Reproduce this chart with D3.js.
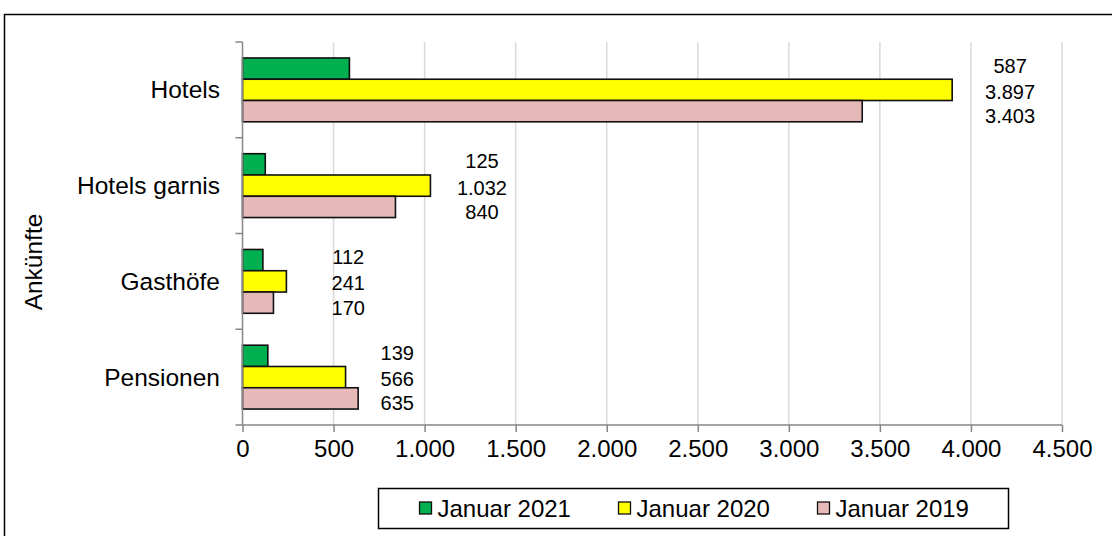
<!DOCTYPE html>
<html>
<head>
<meta charset="utf-8">
<script src="https://cdn.jsdelivr.net/npm/d3@7"></script>
<style>
    html, body { margin: 0; padding: 0; background: #fff; }
    svg { display: block; font-family: "Liberation Sans", Arial, sans-serif; }
</style>
</head>
<body>
<div id="chart"></div>
<script>
const categories = ["Hotels", "Hotels garnis", "Gasthöfe", "Pensionen"];
const seriesNames = ["Januar 2021", "Januar 2020", "Januar 2019"];
const jan2021 = [587, 125, 112, 139];
const jan2020 = [3897, 1032, 241, 566];
const jan2019 = [3403, 840, 170, 635];
const xTicks = [0, 500, 1000, 1500, 2000, 2500, 3000, 3500, 4000, 4500];
const axisTitle = "Ankünfte";

const seriesColors = ["#00b050", "#ffff00", "#e6b9b8"];
const seriesValues = [jan2021, jan2020, jan2019];

// labels were dragged by hand in the original, anchor them per category
const labelAnchor = [4215, 1315, 581, 850];
const labelShift = [-3, 2, 5];

const width = 1112, height = 536;
const plot = { left: 242.5, right: 1062, top: 42, bottom: 425 };

const svg = d3.select("#chart").append("svg")
    .attr("width", width)
    .attr("height", height);

// ── Outer frame ──
svg.append("rect")
    .attr("x", 4.5).attr("y", 14.5)
    .attr("width", 1200).attr("height", 700)
    .attr("fill", "none")
    .attr("stroke", "#000")
    .attr("stroke-width", 1.5);

const x = d3.scaleLinear()
    .domain([0, 4500])
    .range([plot.left, plot.right]);

const y = d3.scaleBand()
    .domain(categories)
    .range([plot.top, plot.bottom])
    .padding(0);

const ySub = d3.scaleBand()
    .domain(seriesNames)
    .range([0, y.bandwidth()])
    .paddingInner(0)
    .paddingOuter(0.75);

// ── Gridlines ──
svg.append("g")
    .selectAll("line")
    .data(xTicks.slice(1))
    .join("line")
    .attr("x1", d => x(d)).attr("x2", d => x(d))
    .attr("y1", plot.top).attr("y2", plot.bottom)
    .attr("stroke", "#d9d9d9")
    .attr("stroke-width", 1.5);

// ── Bars ──
const rows = categories.map((c, i) => seriesNames.map((s, j) => ({
    cat: c, series: s, si: j, ci: i, value: seriesValues[j][i]
})));

const groups = svg.append("g")
    .selectAll("g")
    .data(rows)
    .join("g")
    .attr("transform", d => `translate(0,${y(d[0].cat)})`);

groups.selectAll("rect")
    .data(d => d)
    .join("rect")
    .attr("x", x(0))
    .attr("y", d => ySub(d.series))
    .attr("width", d => x(d.value) - x(0))
    .attr("height", ySub.bandwidth())
    .attr("fill", d => seriesColors[d.si])
    .attr("stroke", "#111")
    .attr("stroke-width", 1.6);

const fmt = v => d3.format(",")(v).replace(/,/g, ".");

groups.selectAll("text")
    .data(d => d)
    .join("text")
    .attr("x", d => x(labelAnchor[d.ci]))
    .attr("y", d => ySub(d.series) + ySub.bandwidth() / 2 + labelShift[d.si])
    .attr("text-anchor", "middle")
    .attr("dominant-baseline", "central")
    .attr("font-size", 20)
    .attr("fill", "#000")
    .text(d => fmt(d.value));

// ── X axis ──
const xAxis = svg.append("g")
    .attr("transform", `translate(0,${plot.bottom})`)
    .call(d3.axisBottom(x).tickValues(xTicks).tickFormat(fmt).tickSize(7).tickPadding(8));
xAxis.select(".domain")
    .attr("d", `M${plot.left - 7},0H${plot.right}`)
    .attr("stroke", "#868686").attr("stroke-width", 1.5);
xAxis.selectAll(".tick line").attr("stroke", "#868686").attr("stroke-width", 1.5);
xAxis.selectAll(".tick text")
    .attr("font-size", 24)
    .attr("font-family", "'Liberation Sans', Arial, sans-serif")
    .attr("fill", "#000");

// ── Y axis ──
const yAxis = svg.append("g");
yAxis.append("line")
    .attr("x1", plot.left).attr("x2", plot.left)
    .attr("y1", plot.top).attr("y2", plot.bottom)
    .attr("stroke", "#868686").attr("stroke-width", 1.5);
yAxis.selectAll(".ytick")
    .data(categories)
    .join("line")
    .attr("class", "ytick")
    .attr("x1", plot.left - 7).attr("x2", plot.left)
    .attr("y1", d => y(d)).attr("y2", d => y(d))
    .attr("stroke", "#868686").attr("stroke-width", 1.5);
yAxis.selectAll(".ylabel")
    .data(categories)
    .join("text")
    .attr("class", "ylabel")
    .attr("x", 220)
    .attr("y", d => y(d) + y.bandwidth() / 2)
    .attr("text-anchor", "end")
    .attr("dominant-baseline", "central")
    .attr("font-size", 24.5)
    .text(d => d);

svg.append("text")
    .attr("transform", "translate(33,262) rotate(-90)")
    .attr("text-anchor", "middle")
    .attr("dominant-baseline", "central")
    .attr("font-size", 24.5)
    .text(axisTitle);

// ── Legend ──
const legend = svg.append("g").attr("transform", "translate(378.5,488.5)");
legend.append("rect")
    .attr("width", 630).attr("height", 40)
    .attr("fill", "#fff")
    .attr("stroke", "#000")
    .attr("stroke-width", 1.5);

const items = legend.selectAll(".item")
    .data(seriesNames)
    .join("g")
    .attr("class", "item")
    .attr("transform", (d, i) => `translate(${41 + i * 199},0)`);
items.append("rect")
    .attr("y", 13.5).attr("width", 12).attr("height", 12)
    .attr("fill", (d, i) => seriesColors[i])
    .attr("stroke", "#111").attr("stroke-width", 1.3);
items.append("text")
    .attr("x", 18).attr("y", 20)
    .attr("dominant-baseline", "central")
    .attr("font-size", 24)
    .text(d => d);
</script>
</body>
</html>
